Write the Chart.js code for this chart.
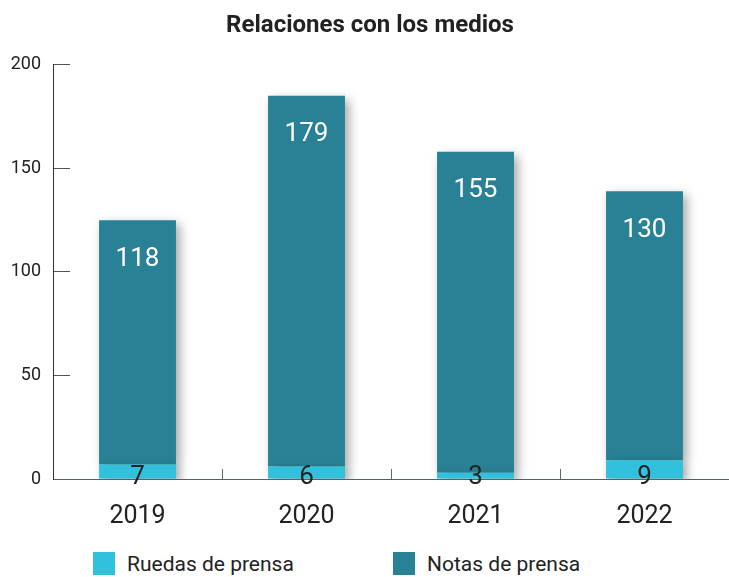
<!DOCTYPE html>
<html>
<head>
<meta charset="utf-8">
<script src="https://cdn.jsdelivr.net/npm/chart.js@4/dist/chart.umd.min.js"></script>
<style>
  html, body { margin: 0; padding: 0; background: #fff; }
  body { width: 729px; height: 577px; overflow: hidden; }
  #chart { display: block; }
  #legend { position: relative; height: 37px; font-family: Roboto, sans-serif; font-size: 21px; color: #222; }
  #legend .item { position: absolute; top: 12px; display: flex; align-items: center; height: 23px; }
  #legend .box { width: 22px; height: 23px; margin-right: 12px; }
</style>
</head>
<body>
<canvas id="chart" width="729" height="540"></canvas>
<div id="legend"></div>
<script>
const years = ['2019', '2020', '2021', '2022'];
const ruedasDePrensa = [7, 6, 3, 9];
const notasDePrensa = [118, 179, 155, 130];
const yMax = 200;
const yStep = 50;

const lightBlue = '#32c1dc';
const darkTeal = '#288194';

// soft drop shadow under the stacked bars
const barShadow = {
  id: 'barShadow',
  beforeDatasetsDraw(chart) {
    const ctx = chart.ctx;
    ctx.save();
    ctx.shadowColor = 'rgba(0, 0, 0, 0.35)';
    ctx.shadowBlur = 10;
    ctx.shadowOffsetX = 4;
    ctx.shadowOffsetY = 4;
  },
  afterDatasetsDraw(chart) {
    chart.ctx.restore();
  }
};

// value labels: notas near the top of the bar, ruedas on the axis
const valueLabels = {
  id: 'valueLabels',
  afterDraw(chart) {
    const ctx = chart.ctx;
    ctx.save();
    ctx.textAlign = 'center';
    ctx.textBaseline = 'middle';
    ctx.font = '26px Roboto';
    chart.getDatasetMeta(1).data.forEach((bar, i) => {
      ctx.fillStyle = '#ffffff';
      ctx.fillText(chart.data.datasets[1].data[i], bar.x, bar.y + 39);
    });
    chart.getDatasetMeta(0).data.forEach((bar, i) => {
      ctx.fillStyle = '#222222';
      ctx.fillText(chart.data.datasets[0].data[i], bar.x, bar.base - 1);
    });
    ctx.restore();
  }
};

const chart = new Chart(document.getElementById('chart'), {
  type: 'bar',
  data: {
    labels: years,
    datasets: [
      { label: 'Ruedas de prensa', data: ruedasDePrensa, backgroundColor: lightBlue, borderWidth: 0 },
      { label: 'Notas de prensa', data: notasDePrensa, backgroundColor: darkTeal, borderWidth: 0 }
    ]
  },
  options: {
    responsive: false,
    animation: false,
    categoryPercentage: 1,
    barPercentage: 0.455,
    layout: { padding: { top: 0, left: 11, right: 0, bottom: 11 } },
    plugins: {
      legend: { display: false },
      tooltip: { enabled: false },
      title: {
        display: true,
        text: 'Relaciones con los medios',
        color: '#222',
        font: { family: 'Roboto', size: 24, weight: 'bold' },
        padding: { top: 12, bottom: 24 }
      }
    },
    scales: {
      x: {
        stacked: true,
        border: { color: '#55606a', width: 1 },
        grid: { offset: true, drawOnChartArea: false, tickLength: -10, color: '#666' },
        ticks: { color: '#222', font: { family: 'Roboto', size: 25 }, padding: 33 },
        afterFit(scale) { scale.height = 50; }
      },
      y: {
        stacked: true,
        min: 0,
        max: yMax,
        border: { color: '#333', width: 1 },
        grid: { drawOnChartArea: false, tickLength: -17, color: '#555' },
        ticks: { stepSize: yStep, color: '#222', font: { family: 'Roboto', size: 18 }, padding: 29 },
        afterFit(scale) { scale.width = 42; }
      }
    }
  },
  plugins: [barShadow, valueLabels]
});

// legend built from the datasets
const legendLeft = [93, 393];
const legendEl = document.getElementById('legend');
chart.data.datasets.forEach((ds, i) => {
  const item = document.createElement('div');
  item.className = 'item';
  item.style.left = legendLeft[i] + 'px';
  const box = document.createElement('span');
  box.className = 'box';
  box.style.background = ds.backgroundColor;
  const text = document.createElement('span');
  text.textContent = ds.label;
  item.appendChild(box);
  item.appendChild(text);
  legendEl.appendChild(item);
});
</script>
</body>
</html>
